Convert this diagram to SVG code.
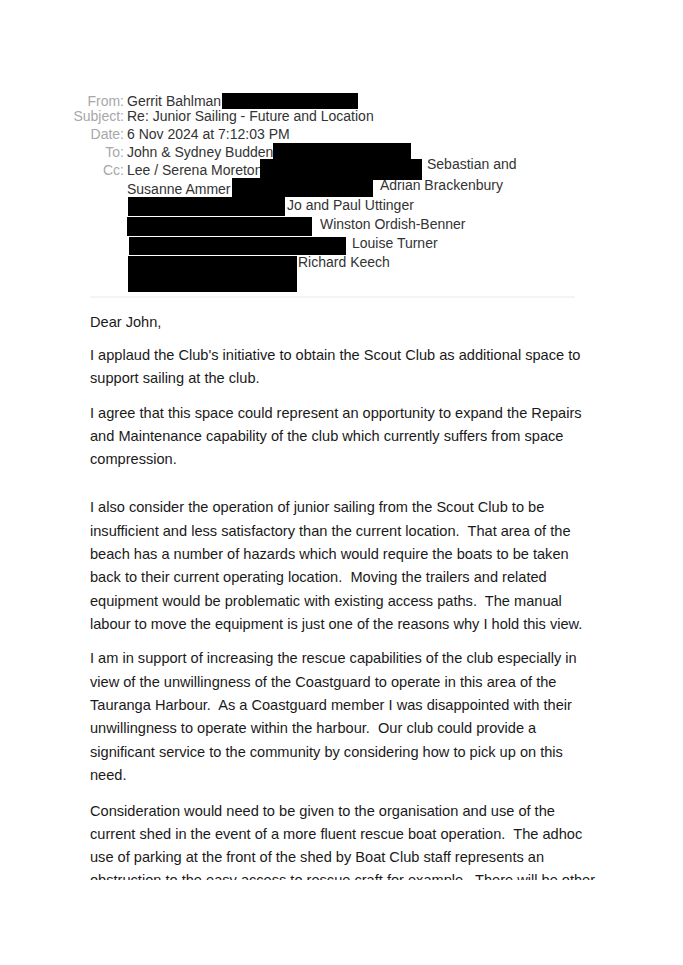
<svg xmlns="http://www.w3.org/2000/svg" width="683" height="965" viewBox="0 0 683 965">
<style>
.l{font-family:"Liberation Sans",Arial,sans-serif;font-size:14px;fill:#a8a8a8;text-anchor:end}
.h{font-family:"Liberation Sans",Arial,sans-serif;font-size:14px;fill:#333}
.b{font-family:"Liberation Sans",Arial,sans-serif;font-size:14.6px;fill:#1a1a1a;white-space:pre}
.r{fill:#000}
</style>
<rect width="683" height="965" fill="#fff"/>
<g id="header">
<text class="l" x="124" y="106">From:</text>
<text class="l" x="124" y="121">Subject:</text>
<text class="l" x="124" y="139">Date:</text>
<text class="l" x="124" y="157">To:</text>
<text class="l" x="124" y="175">Cc:</text>
<text class="h" x="127" y="106">Gerrit Bahlman</text>
<text class="h" x="127" y="121">Re: Junior Sailing - Future and Location</text>
<text class="h" x="127" y="139">6 Nov 2024 at 7:12:03 PM</text>
<text class="h" x="127" y="157">John &amp; Sydney Budden</text>
<text class="h" x="127" y="175">Lee / Serena Moreton</text>
<text class="h" x="427" y="169">Sebastian and</text>
<text class="h" x="127" y="194">Susanne Ammer</text>
<text class="h" x="380" y="190">Adrian Brackenbury</text>
<text class="h" x="287" y="210">Jo and Paul Uttinger</text>
<text class="h" x="320" y="229">Winston Ordish-Benner</text>
<text class="h" x="352" y="248">Louise Turner</text>
<text class="h" x="298" y="267">Richard Keech</text>
<rect class="r" x="222" y="93" width="136" height="16"/>
<rect class="r" x="273" y="143" width="138" height="17"/>
<rect class="r" x="260" y="159" width="162" height="21"/>
<rect class="r" x="232" y="178" width="141" height="19"/>
<rect class="r" x="128" y="197" width="157" height="19"/>
<rect class="r" x="127" y="217" width="185" height="19"/>
<rect class="r" x="129" y="237" width="217" height="18"/>
<rect class="r" x="128" y="256" width="169" height="36"/>
<line x1="90" y1="297" x2="575" y2="297" stroke="#f0f0f0" stroke-width="1.5"/>
</g>
<g id="body">
<text class="b" x="90" y="327">Dear John,</text>
<text class="b" x="90" y="360">I applaud the Club's initiative to obtain the Scout Club as additional space to</text>
<text class="b" x="90" y="383">support sailing at the club.</text>
<text class="b" x="90" y="418">I agree that this space could represent an opportunity to expand the Repairs</text>
<text class="b" x="90" y="441">and Maintenance capability of the club which currently suffers from space</text>
<text class="b" x="90" y="464">compression.</text>
<text class="b" x="90" y="512">I also consider the operation of junior sailing from the Scout Club to be</text>
<text class="b" x="90" y="536">insufficient and less satisfactory than the current location.  That area of the</text>
<text class="b" x="90" y="559">beach has a number of hazards which would require the boats to be taken</text>
<text class="b" x="90" y="582">back to their current operating location.  Moving the trailers and related</text>
<text class="b" x="90" y="606">equipment would be problematic with existing access paths.  The manual</text>
<text class="b" x="90" y="629">labour to move the equipment is just one of the reasons why I hold this view.</text>
<text class="b" x="90" y="663">I am in support of increasing the rescue capabilities of the club especially in</text>
<text class="b" x="90" y="687">view of the unwillingness of the Coastguard to operate in this area of the</text>
<text class="b" x="90" y="710">Tauranga Harbour.  As a Coastguard member I was disappointed with their</text>
<text class="b" x="90" y="733">unwillingness to operate within the harbour.  Our club could provide a</text>
<text class="b" x="90" y="757">significant service to the community by considering how to pick up on this</text>
<text class="b" x="90" y="780">need.</text>
<text class="b" x="90" y="816">Consideration would need to be given to the organisation and use of the</text>
<text class="b" x="90" y="839">current shed in the event of a more fluent rescue boat operation.  The adhoc</text>
<text class="b" x="90" y="862">use of parking at the front of the shed by Boat Club staff represents an</text>
<text class="b" x="90" y="885">obstruction to the easy access to rescue craft for example.  There will be other</text>
<rect x="0" y="880" width="683" height="85" fill="#fff"/>
</g>
</svg>
